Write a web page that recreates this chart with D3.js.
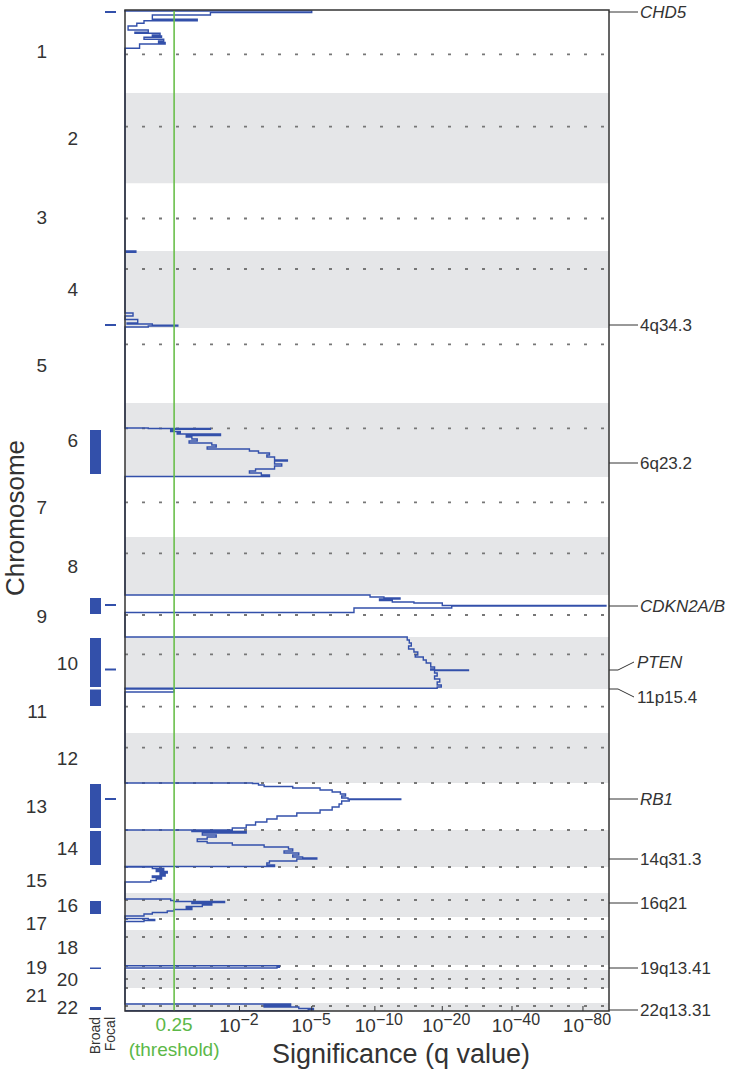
<!DOCTYPE html>
<html>
<head>
<meta charset="utf-8">
<script src="https://cdn.jsdelivr.net/npm/d3@7"></script>
<style>
  body { margin: 0; background: #fff; }
  text { font-family: "Liberation Sans", Arial, sans-serif; fill: #333; }
</style>
</head>
<body>
<svg id="chart" width="734" height="1069"></svg>
<script>
// chromosome sizes in relative genome units
const chromNames = ["1","2","3","4","5","6","7","8","9","10","11","12","13","14","15","16","17","18","19","20","21","22"];
const chromSizes = [83, 90.5, 67.5, 77, 75, 74, 60, 58, 42, 52, 44, 50, 47, 37, 26, 24, 13, 35, 5, 18, 15, 8];
const centromeres = [44.3, 33.7, 35, 18, 16.3, 25.3, 25.3, 16.3, 20, 17.3, 17.7, 14.7, 0, 0, 0, 7, 2, 7, 1, 9, 0, 3];

// deletion significance trace: [chromosome, position in chromosome, -log10(q)]
const trace = [
  [1, 0, 0], [1, 1, 5.0], [1, 2.6, 1.27], [1, 5, 0.3], [1, 9.3, 1.0], [1, 10.7, 0.2], [1, 13.3, 0.12], [1, 16, 0.03],
  [1, 20, 0.25], [1, 22.3, 0.1], [1, 23.3, 0.4], [1, 25, 0.3], [1, 26, 0.42], [1, 27.3, 0.2], [1, 29.3, 0.45],
  [1, 31, 0.38], [1, 32.5, 0.47], [1, 34, 0.15], [1, 38.3, 0],
  [4, 0, 0.11], [4, 1.2, 0], [4, 62, 0.08], [4, 65, 0], [4, 68.5, 0.13], [4, 72, 0.02], [4, 73, 0.3], [4, 74.3, 0.66],
  [4, 75, 0.25], [4, 76, 0],
  [6, 25, 0.25], [6, 25.5, 1.27], [6, 26.2, 0.6], [6, 27, 0.55], [6, 28.5, 0.7], [6, 30, 0.65], [6, 31, 1.5],
  [6, 32.5, 0.8], [6, 34, 0.9], [6, 36, 1.0], [6, 38, 0.85], [6, 40, 1.3], [6, 42, 1.4], [6, 44, 1.2], [6, 46, 2.3],
  [6, 48, 2.6], [6, 50, 3.0], [6, 52, 2.9], [6, 54, 3.2], [6, 57, 3.75], [6, 58, 3.2], [6, 61, 3.5], [6, 63, 3.2],
  [6, 66, 2.5], [6, 68, 2.3], [6, 70, 2.7], [6, 72, 3.0], [6, 73.5, 0],
  [9, 0, 9.5], [9, 2, 11], [9, 3, 13], [9, 4, 10.5], [9, 5.5, 12], [9, 7, 15], [9, 8, 20], [9, 10.5, 100],
  [9, 11, 22], [9, 13, 8], [9, 17.5, 0],
  [10, 0, 14.0], [10, 3, 14.3], [10, 6, 14.6], [10, 9, 14.2], [10, 12, 15.0], [10, 15, 15.6], [10, 18, 15.2],
  [10, 20, 16.5], [10, 23, 17.0], [10, 26, 17.8], [10, 30, 18.5], [10, 32, 17.8], [10, 33, 26.0], [10, 33.6, 18.5],
  [10, 36, 19.0], [10, 39, 18.5], [10, 42, 19.5], [10, 45, 19.0], [10, 48, 19.8], [10, 50, 19.0], [10, 51.3, 0],
  [11, 0, 0.6], [11, 3, 0],
  [13, 0, 2.4], [13, 0.5, 2.6], [13, 2, 2.8], [13, 3.5, 4.0], [13, 5, 5.5], [13, 7, 6.3], [13, 9, 6.9], [13, 11, 7.3],
  [13, 13, 7.0], [13, 15, 7.5], [13, 16, 13.1], [13, 16.6, 7.6], [13, 18, 7.0], [13, 21, 6.8], [13, 24, 6.3],
  [13, 27, 5.5], [13, 30, 4.2], [13, 33, 3.3], [13, 36, 2.9], [13, 39, 2.5], [13, 42, 2.2], [13, 45, 1.8], [13, 47, 0],
  [14, 0, 0.9], [14, 1.5, 2.2], [14, 3, 1.1], [14, 5, 1.4], [14, 7, 1.2], [14, 9, 1.0], [14, 11.5, 1.2], [14, 13, 1.8],
  [14, 15, 2.8], [14, 17, 3.8], [14, 19, 4.0], [14, 21, 3.6], [14, 23, 4.3], [14, 25, 4.0], [14, 27, 4.5],
  [14, 28, 5.3], [14, 29, 4.2], [14, 31, 3.0], [14, 33, 2.9], [14, 35, 3.2], [14, 36.5, 0],
  [15, 0, 0.3], [15, 1.5, 0.45], [15, 3, 0.35], [15, 4.5, 0.5], [15, 6, 0.4], [15, 7.5, 0.47], [15, 9, 0.3],
  [15, 10.5, 0.42], [15, 12, 0.35], [15, 13.5, 0.28], [15, 15, 0],
  [16, 6, 0.55], [16, 7.5, 0.6], [16, 8.5, 1.6], [16, 9.5, 0.9], [16, 10.5, 1.3], [16, 12, 1.1], [16, 13.5, 0.8],
  [16, 15, 0.9], [16, 16.5, 0.6], [16, 18, 0.5], [16, 19.5, 0.3], [16, 21, 0.2], [16, 23, 0],
  [17, 1.5, 0.25], [17, 2.5, 0.33], [17, 3.5, 0.2], [17, 4.5, 0],
  [19, 0.8, 3.4], [19, 2.3, 3.3], [19, 3, 0],
  [22, 1, 3.9], [22, 2.5, 2.8], [22, 4, 4.3], [22, 5.5, 5.1], [22, 7, 4.8], [22, 7.8, 0]
];

// broad events: [chromosome, start, end]; focal events: [chromosome, position]
const broad = [[6, 27, 71], [9, 3, 19], [10, 1, 50], [11, 0.5, 17], [13, 1, 45], [14, 1, 35], [16, 8, 21], [19, 2.5, 3.5], [22, 4, 7]];
const focal = [[1, 2], [4, 74], [9, 10], [10, 32.5], [13, 16]];

// labelled peaks
const peakNames = ["CHD5", "4q34.3", "6q23.2", "CDKN2A/B", "PTEN", "11p15.4", "RB1", "14q31.3", "16q21", "19q13.41", "22q13.31"];
const peakChrom = [1, 4, 6, 9, 10, 11, 13, 14, 16, 19, 22];
const peakPos = [2, 74, 60, 11, 33, 0, 16, 29, 10, 3, 7];
const peakIsGene = [true, false, false, true, true, false, true, false, false, false, false];
const peakShift = [0, 0, 0, 0, -8, 8, 0, 0, 0, 0, 0];

const qTicks = [2, 5, 10, 20, 40, 80];   // -log10(q)
const threshold = 0.25;

const svg = d3.select("#chart");
const plotL = 125, plotR = 609, plotT = 10, plotB = 1011;

const chromStart = [];
let acc = 0;
chromSizes.forEach(s => { chromStart.push(acc); acc += s; });
const total = acc;
const gpos = (c, p) => chromStart[c - 1] + p;

const y = d3.scaleLinear().domain([0, total]).range([plotT, plotB]);
const xLog = d3.scaleLog().domain([1, 104]).range([plotL, plotR]);
const x = v => xLog(1 + v);

// chromosome bands
svg.append("g").selectAll("rect")
  .data(chromNames)
  .join("rect")
  .attr("x", plotL)
  .attr("width", plotR - plotL)
  .attr("y", (d, i) => y(chromStart[i]))
  .attr("height", (d, i) => y(chromStart[i] + chromSizes[i]) - y(chromStart[i]))
  .attr("fill", (d, i) => i % 2 === 1 ? "#e5e6e8" : "#fff");

// centromeres
svg.append("g").selectAll("line")
  .data(centromeres)
  .join("line")
  .attr("x1", plotL).attr("x2", plotR - 1)
  .attr("y1", (d, i) => y(chromStart[i] + d))
  .attr("y2", (d, i) => y(chromStart[i] + d))
  .attr("stroke", "#777")
  .attr("stroke-width", 1.8)
  .attr("stroke-dasharray", "3 14");

// significance trace
const pts = [[0, 0]].concat(trace.map(d => [gpos(d[0], d[1]), d[2]]));
const line = d3.line()
  .x(d => x(d[1]))
  .y(d => y(d[0]))
  .curve(d3.curveStepBefore);
svg.append("path")
  .datum(pts)
  .attr("d", line)
  .attr("fill", "none")
  .attr("stroke", "#3350aa")
  .attr("stroke-width", 1.4)
  .attr("stroke-linejoin", "miter");

// threshold
svg.append("line")
  .attr("x1", x(-Math.log10(threshold))).attr("x2", x(-Math.log10(threshold)))
  .attr("y1", plotT).attr("y2", plotB)
  .attr("stroke", "#6abf4b")
  .attr("stroke-width", 1.6);

// frame
svg.append("rect")
  .attr("x", plotL).attr("y", plotT)
  .attr("width", plotR - plotL).attr("height", plotB - plotT)
  .attr("fill", "none")
  .attr("stroke", "#333")
  .attr("stroke-width", 1.5);

// x ticks
const tk = svg.append("g");
qTicks.forEach(t => {
  tk.append("line")
    .attr("x1", x(t)).attr("x2", x(t))
    .attr("y1", plotB).attr("y2", plotB - 5)
    .attr("stroke", "#333");
  tk.append("text")
    .attr("x", x(t) + 1)
    .attr("y", 1032)
    .attr("text-anchor", "end")
    .style("font-size", "19px")
    .text("10");
  tk.append("text")
    .attr("x", x(t) + 1)
    .attr("y", 1025)
    .style("font-size", "16px")
    .text("\u2212" + t);
});

svg.append("text")
  .attr("x", x(-Math.log10(threshold)))
  .attr("y", 1031)
  .attr("text-anchor", "middle")
  .style("font-size", "19px")
  .style("fill", "#5cb848")
  .text(threshold);
svg.append("text")
  .attr("x", x(-Math.log10(threshold)))
  .attr("y", 1056)
  .attr("text-anchor", "middle")
  .style("font-size", "19px")
  .style("fill", "#5cb848")
  .text("(threshold)");

svg.append("text")
  .attr("x", 401)
  .attr("y", 1063)
  .attr("text-anchor", "middle")
  .style("font-size", "27px")
  .text("Significance (q value)");

svg.append("text")
  .attr("transform", "translate(24,518) rotate(-90)")
  .attr("text-anchor", "middle")
  .style("font-size", "26px")
  .text("Chromosome");

// chromosome labels, odd in the outer column
svg.append("g").selectAll("text")
  .data(chromNames)
  .join("text")
  .attr("x", (d, i) => i % 2 === 0 ? 47 : 78)
  .attr("y", (d, i) => y(chromStart[i] + chromSizes[i] / 2))
  .attr("dy", "0.35em")
  .attr("text-anchor", "end")
  .style("font-size", "19px")
  .text(d => d);

// broad / focal columns
svg.append("g").selectAll("rect")
  .data(broad)
  .join("rect")
  .attr("x", 90).attr("width", 11)
  .attr("y", d => y(gpos(d[0], d[1])))
  .attr("height", d => Math.max(1.5, y(gpos(d[0], d[2])) - y(gpos(d[0], d[1]))))
  .attr("fill", "#3350aa");
svg.append("g").selectAll("line")
  .data(focal)
  .join("line")
  .attr("x1", 105).attr("x2", 116)
  .attr("y1", d => y(gpos(d[0], d[1])))
  .attr("y2", d => y(gpos(d[0], d[1])))
  .attr("stroke", "#3350aa")
  .attr("stroke-width", 2);

svg.append("text")
  .attr("transform", "translate(100,1017) rotate(-90)")
  .attr("text-anchor", "end")
  .style("font-size", "14px")
  .text("Broad");
svg.append("text")
  .attr("transform", "translate(115,1017) rotate(-90)")
  .attr("text-anchor", "end")
  .style("font-size", "14px")
  .text("Focal");

// peak labels on the right
const pk = svg.append("g");
peakNames.forEach((name, i) => {
  const py = y(gpos(peakChrom[i], peakPos[i]));
  const ly = py + peakShift[i];
  const path = peakShift[i] === 0
    ? [[plotR, py], [638, py]]
    : [[plotR, py], [618, py], [634, ly]];
  pk.append("path")
    .attr("d", d3.line()(path))
    .attr("fill", "none")
    .attr("stroke", "#333")
    .attr("stroke-width", 1);
  pk.append("text")
    .attr("x", peakShift[i] === 0 ? 640 : 637)
    .attr("y", ly)
    .attr("dy", "0.35em")
    .style("font-size", "17px")
    .style("font-style", peakIsGene[i] ? "italic" : "normal")
    .text(name);
});
</script>
</body>
</html>
